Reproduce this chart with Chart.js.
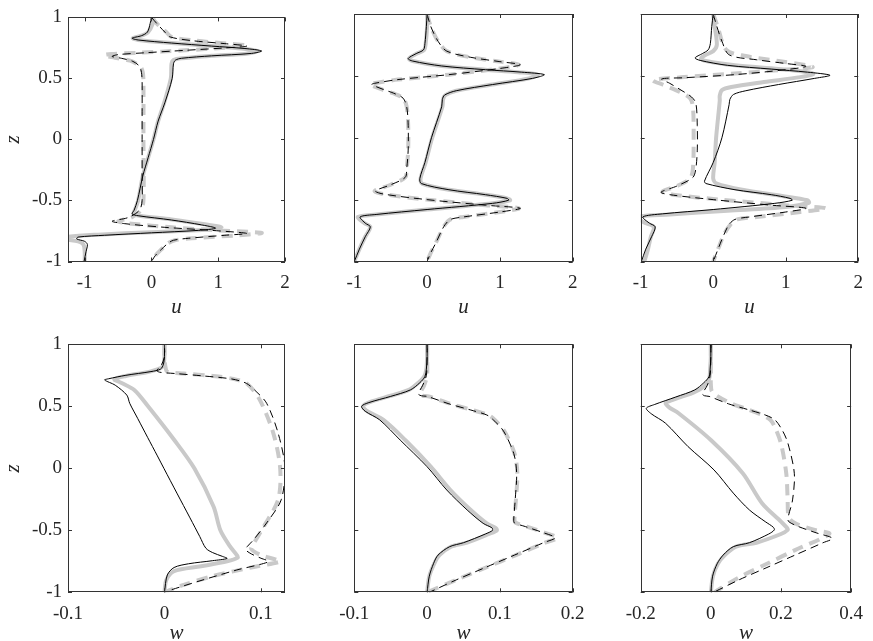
<!DOCTYPE html>
<html>
<head>
<meta charset="utf-8">
<script src="https://cdn.jsdelivr.net/npm/chart.js@4.4.1/dist/chart.umd.min.js"></script>
<style>
  html, body { margin: 0; padding: 0; background: #fff; overflow: hidden; }
  #wrap { position: relative; width: 873px; height: 641px; }
  canvas { position: absolute; left: 0; top: 0; }
</style>
</head>
<body>
<div id="wrap"></div>
<script>
// profiles: [value, z]
const u1GreySolid = [[0.03,1],[0.02,0.95],[-0.05,0.88],[-0.15,0.85],[-0.28,0.83],[-0.2,0.815],[0.3,0.79],[0.9,0.765],[1.35,0.745],[1.58,0.725],[1.45,0.705],[0.9,0.685],[0.45,0.665],[0.33,0.65],[0.3,0.62],[0.29,0.5],[0.19,0.3],[0.1,0.15],[0.03,0],[-0.05,-0.15],[-0.13,-0.3],[-0.2,-0.5],[-0.25,-0.58],[-0.27,-0.61],[-0.18,-0.625],[0.3,-0.655],[0.8,-0.695],[1.05,-0.72],[0.8,-0.74],[0,-0.76],[-0.8,-0.78],[-1.3,-0.8],[-1.3,-0.815],[-1.1,-0.835],[-1.02,-0.86],[-1.0,-0.92],[-1.0,-1]];
const u1BlackSolid = [[0,1],[-0.02,0.95],[-0.06,0.88],[-0.15,0.85],[-0.29,0.83],[-0.2,0.815],[0.3,0.79],[0.9,0.765],[1.4,0.745],[1.65,0.725],[1.5,0.705],[0.9,0.685],[0.45,0.665],[0.36,0.65],[0.33,0.62],[0.31,0.5],[0.2,0.3],[0.1,0.15],[0.03,0],[-0.05,-0.15],[-0.13,-0.3],[-0.21,-0.5],[-0.26,-0.58],[-0.29,-0.61],[-0.2,-0.625],[0.3,-0.66],[0.75,-0.7],[0.96,-0.727],[0.7,-0.745],[0,-0.765],[-0.7,-0.785],[-1.1,-0.8],[-1.12,-0.815],[-1.0,-0.835],[-0.96,-0.86],[-0.98,-0.92],[-1.01,-1]];
const u1GreyDash = [[0,1],[0.08,0.95],[0.22,0.88],[0.3,0.84],[0.65,0.81],[1.15,0.785],[1.43,0.77],[1.1,0.752],[0.5,0.73],[-0.2,0.71],[-0.6,0.7],[-0.71,0.69],[-0.55,0.67],[-0.32,0.645],[-0.17,0.6],[-0.13,0.55],[-0.12,0.47],[-0.12,0],[-0.12,-0.5],[-0.16,-0.58],[-0.3,-0.64],[-0.5,-0.67],[-0.3,-0.69],[0.3,-0.72],[1.0,-0.745],[1.65,-0.765],[1.3,-0.785],[0.6,-0.81],[0.35,-0.826],[0.25,-0.85],[0.15,-0.9],[0.06,-0.95],[0,-1]];
const u1BlackDash = [[0,1],[0.08,0.95],[0.2,0.88],[0.28,0.84],[0.6,0.81],[1.1,0.785],[1.43,0.765],[1.1,0.75],[0.5,0.73],[-0.1,0.71],[-0.5,0.695],[-0.59,0.68],[-0.45,0.665],[-0.28,0.64],[-0.18,0.6],[-0.15,0.55],[-0.14,0.47],[-0.14,0.2],[-0.14,0],[-0.14,-0.3],[-0.14,-0.5],[-0.18,-0.58],[-0.35,-0.64],[-0.59,-0.67],[-0.4,-0.69],[0.2,-0.72],[0.9,-0.745],[1.43,-0.77],[1.1,-0.785],[0.55,-0.81],[0.33,-0.826],[0.25,-0.85],[0.15,-0.9],[0.06,-0.95],[0,-1]];

const u2GreySolid = [[0,1],[0,0.9],[-0.02,0.76],[-0.04,0.71],[-0.14,0.68],[-0.25,0.64],[-0.2,0.62],[0.2,0.58],[0.8,0.55],[1.25,0.53],[1.52,0.51],[1.4,0.48],[0.9,0.43],[0.4,0.38],[0.25,0.345],[0.22,0.31],[0.21,0.25],[0.07,0],[-0.02,-0.2],[-0.09,-0.33],[-0.07,-0.37],[0.3,-0.42],[0.8,-0.46],[1.1,-0.49],[1.14,-0.505],[0.9,-0.53],[0,-0.58],[-0.7,-0.62],[-0.95,-0.64],[-0.86,-0.69],[-0.78,-0.72],[-0.85,-0.8],[-0.93,-0.9],[-1,-1]];
const u2BlackSolid = [[0,1],[-0.01,0.9],[-0.03,0.76],[-0.05,0.71],[-0.15,0.68],[-0.26,0.64],[-0.2,0.62],[0.2,0.58],[0.8,0.55],[1.3,0.53],[1.61,0.51],[1.45,0.48],[0.9,0.43],[0.4,0.38],[0.24,0.345],[0.21,0.31],[0.2,0.25],[0.06,0],[-0.03,-0.2],[-0.1,-0.33],[-0.08,-0.37],[0.3,-0.42],[0.8,-0.46],[1.1,-0.49],[1.12,-0.505],[0.9,-0.53],[0,-0.58],[-0.7,-0.62],[-0.92,-0.64],[-0.85,-0.69],[-0.78,-0.72],[-0.85,-0.8],[-0.93,-0.9],[-1,-1]];
const u2GreyDash = [[0,1],[0.05,0.9],[0.15,0.78],[0.27,0.7],[0.6,0.65],[1.0,0.615],[1.26,0.59],[1.0,0.56],[0.3,0.51],[-0.4,0.47],[-0.74,0.44],[-0.78,0.43],[-0.62,0.39],[-0.47,0.36],[-0.33,0.32],[-0.28,0.25],[-0.26,0.1],[-0.26,-0.1],[-0.28,-0.25],[-0.3,-0.32],[-0.5,-0.38],[-0.72,-0.43],[-0.6,-0.455],[0,-0.5],[0.8,-0.545],[1.26,-0.57],[1.0,-0.6],[0.5,-0.64],[0.32,-0.66],[0.25,-0.7],[0.2,-0.75],[0.12,-0.85],[0.05,-0.93],[0,-1]];
const u2BlackDash = [[0,1],[0.05,0.9],[0.15,0.78],[0.27,0.7],[0.6,0.65],[1.0,0.615],[1.28,0.59],[1.0,0.56],[0.3,0.51],[-0.4,0.47],[-0.72,0.44],[-0.76,0.43],[-0.6,0.39],[-0.46,0.36],[-0.33,0.32],[-0.28,0.25],[-0.26,0.1],[-0.26,-0.1],[-0.28,-0.25],[-0.3,-0.32],[-0.5,-0.38],[-0.71,-0.43],[-0.6,-0.455],[0,-0.5],[0.8,-0.545],[1.28,-0.57],[1.0,-0.6],[0.5,-0.64],[0.32,-0.66],[0.25,-0.7],[0.2,-0.75],[0.12,-0.85],[0.05,-0.93],[0,-1]];

const u3GreySolid = [[0,1],[0.02,0.9],[0.05,0.75],[0.0,0.7],[-0.12,0.665],[-0.17,0.64],[-0.1,0.62],[0.3,0.585],[0.9,0.555],[1.3,0.53],[1.38,0.515],[1.2,0.49],[0.7,0.45],[0.25,0.41],[0.12,0.385],[0.09,0.34],[0.09,0.3],[0.04,0],[0.02,-0.2],[0,-0.33],[0.05,-0.37],[0.4,-0.42],[0.95,-0.47],[1.3,-0.505],[1.32,-0.525],[1.0,-0.56],[0.2,-0.59],[-0.6,-0.62],[-1.05,-0.64],[-0.95,-0.685],[-0.82,-0.72],[-0.86,-0.8],[-0.9,-0.9],[-0.95,-1]];
const u3BlackSolid = [[0,1],[-0.02,0.9],[-0.04,0.76],[-0.07,0.71],[-0.15,0.68],[-0.25,0.645],[-0.18,0.625],[0.2,0.585],[0.8,0.555],[1.3,0.53],[1.61,0.505],[1.4,0.48],[0.9,0.43],[0.45,0.38],[0.28,0.35],[0.23,0.31],[0.22,0.27],[0.12,0],[0,-0.2],[-0.12,-0.35],[-0.1,-0.37],[0.3,-0.42],[0.8,-0.46],[1.06,-0.49],[1.09,-0.505],[0.85,-0.53],[0,-0.58],[-0.7,-0.615],[-0.97,-0.64],[-0.88,-0.69],[-0.8,-0.72],[-0.85,-0.8],[-0.93,-0.9],[-0.99,-1]];
const u3GreyDash = [[0,1],[0.06,0.9],[0.18,0.71],[0.45,0.66],[0.9,0.62],[1.3,0.585],[1.37,0.57],[1.0,0.55],[0.3,0.52],[-0.4,0.49],[-0.83,0.465],[-0.7,0.43],[-0.46,0.37],[-0.32,0.32],[-0.28,0.25],[-0.27,0],[-0.28,-0.25],[-0.32,-0.33],[-0.5,-0.39],[-0.7,-0.435],[-0.55,-0.46],[0.1,-0.5],[1.0,-0.545],[1.55,-0.57],[1.2,-0.6],[0.6,-0.64],[0.33,-0.66],[0.24,-0.7],[0.15,-0.78],[0.08,-0.88],[0,-1]];
const u3BlackDash = [[0,1],[0.05,0.9],[0.12,0.78],[0.22,0.67],[0.6,0.63],[1.0,0.6],[1.28,0.577],[1.0,0.55],[0.3,0.51],[-0.4,0.485],[-0.71,0.475],[-0.6,0.44],[-0.43,0.38],[-0.3,0.33],[-0.24,0.28],[-0.22,0.1],[-0.22,-0.1],[-0.24,-0.25],[-0.28,-0.32],[-0.5,-0.39],[-0.72,-0.44],[-0.6,-0.46],[0,-0.5],[0.8,-0.545],[1.28,-0.57],[1.0,-0.6],[0.5,-0.64],[0.3,-0.66],[0.22,-0.7],[0.15,-0.78],[0.08,-0.88],[0,-1]];

const w1GreySolid = [[0,1],[0,0.9],[-0.002,0.82],[-0.015,0.78],[-0.04,0.745],[-0.052,0.718],[-0.045,0.69],[-0.031,0.63],[-0.017,0.5],[0.01,0.23],[0.031,0],[0.051,-0.31],[0.058,-0.5],[0.068,-0.63],[0.075,-0.7],[0.076,-0.72],[0.065,-0.75],[0.038,-0.79],[0.01,-0.83],[0.002,-0.9],[0,-1]];
const w1BlackSolid = [[0,1],[0,0.9],[-0.001,0.84],[-0.004,0.8],[-0.014,0.78],[-0.04,0.75],[-0.058,0.722],[-0.062,0.712],[-0.051,0.67],[-0.039,0.59],[-0.036,0.524],[-0.0276,0.4],[-0.0175,0.25],[-0.0073,0.1],[-0.0006,0],[0.0129,-0.2],[0.0265,-0.4],[0.0366,-0.55],[0.043,-0.645],[0.05,-0.68],[0.06,-0.71],[0.065,-0.727],[0.05,-0.745],[0.025,-0.77],[0.01,-0.8],[0.003,-0.86],[0,-1]];
const w1GreyDash = [[0,1],[0,0.9],[0.001,0.82],[0.003,0.78],[0.02,0.765],[0.05,0.745],[0.072,0.72],[0.086,0.68],[0.099,0.55],[0.113,0.28],[0.12,0],[0.118,-0.25],[0.103,-0.47],[0.093,-0.6],[0.09,-0.65],[0.1,-0.7],[0.115,-0.735],[0.12,-0.753],[0.09,-0.8],[0.05,-0.87],[0.02,-0.94],[0.003,-0.99],[0,-1]];
const w1BlackDash = [[0,1],[0,0.9],[-0.004,0.82],[-0.008,0.79],[-0.005,0.775],[0.01,0.765],[0.04,0.745],[0.07,0.72],[0.085,0.685],[0.095,0.62],[0.106,0.524],[0.118,0.28],[0.125,0],[0.121,-0.255],[0.106,-0.44],[0.092,-0.58],[0.086,-0.63],[0.084,-0.655],[0.09,-0.69],[0.1,-0.725],[0.108,-0.753],[0.075,-0.82],[0.04,-0.9],[0.007,-0.98],[0,-1]];

const w2GreySolid = [[0,1],[0,0.9],[-0.001,0.8],[-0.004,0.74],[-0.012,0.69],[-0.025,0.632],[-0.05,0.585],[-0.078,0.535],[-0.088,0.5],[-0.082,0.46],[-0.06,0.39],[-0.03,0.228],[0.005,0.013],[0.032,-0.175],[0.06,-0.336],[0.082,-0.444],[0.094,-0.48],[0.096,-0.5],[0.085,-0.53],[0.055,-0.6],[0.033,-0.632],[0.017,-0.7],[0.01,-0.766],[0.003,-0.87],[0,-1]];
const w2BlackSolid = [[0,1],[0,0.9],[-0.001,0.8],[-0.003,0.74],[-0.01,0.69],[-0.023,0.632],[-0.05,0.58],[-0.08,0.53],[-0.09,0.5],[-0.085,0.46],[-0.065,0.39],[-0.037,0.228],[0,0.013],[0.027,-0.175],[0.055,-0.336],[0.077,-0.444],[0.089,-0.48],[0.09,-0.5],[0.08,-0.53],[0.05,-0.6],[0.031,-0.632],[0.015,-0.7],[0.009,-0.766],[0.003,-0.87],[0,-1]];
const w2GreyDash = [[0,1],[0,0.9],[0,0.75],[-0.004,0.67],[-0.01,0.6],[-0.006,0.585],[0.002,0.58],[0.032,0.52],[0.062,0.47],[0.084,0.43],[0.093,0.39],[0.106,0.3],[0.12,0.12],[0.124,-0.04],[0.122,-0.255],[0.12,-0.417],[0.122,-0.44],[0.137,-0.47],[0.162,-0.52],[0.179,-0.56],[0.162,-0.6],[0.122,-0.7],[0.081,-0.8],[0.04,-0.9],[0,-1]];
const w2BlackDash = [[0,1],[0,0.9],[-0.001,0.75],[-0.006,0.67],[-0.012,0.6],[-0.008,0.585],[0,0.58],[0.03,0.52],[0.06,0.47],[0.082,0.43],[0.091,0.39],[0.105,0.3],[0.119,0.12],[0.123,-0.04],[0.121,-0.255],[0.119,-0.417],[0.12,-0.44],[0.135,-0.47],[0.16,-0.52],[0.176,-0.56],[0.16,-0.6],[0.12,-0.7],[0.08,-0.8],[0.04,-0.9],[0.003,-1]];

const w3GreySolid = [[0,1],[0,0.9],[-0.002,0.8],[-0.005,0.72],[-0.02,0.66],[-0.05,0.61],[-0.083,0.578],[-0.12,0.54],[-0.129,0.524],[-0.118,0.49],[-0.092,0.444],[0,0.228],[0.091,-0.04],[0.146,-0.282],[0.2,-0.43],[0.217,-0.48],[0.219,-0.497],[0.2,-0.53],[0.13,-0.6],[0.072,-0.632],[0.04,-0.7],[0.02,-0.77],[0.006,-0.87],[0,-1]];
const w3BlackSolid = [[0,1],[0,0.9],[-0.002,0.8],[-0.005,0.74],[-0.02,0.69],[-0.046,0.632],[-0.1,0.575],[-0.16,0.515],[-0.184,0.484],[-0.17,0.44],[-0.129,0.363],[-0.065,0.175],[0.009,-0.013],[0.064,-0.2],[0.11,-0.336],[0.155,-0.43],[0.178,-0.475],[0.181,-0.497],[0.165,-0.53],[0.11,-0.6],[0.064,-0.632],[0.035,-0.7],[0.018,-0.77],[0.005,-0.87],[0,-1]];
const w3GreyDash = [[0,1],[0,0.9],[0,0.75],[0,0.68],[0.003,0.62],[0.02,0.58],[0.06,0.52],[0.1,0.48],[0.146,0.43],[0.17,0.39],[0.183,0.33],[0.2,0.2],[0.215,-0.04],[0.219,-0.255],[0.22,-0.36],[0.225,-0.41],[0.245,-0.45],[0.3,-0.5],[0.338,-0.524],[0.32,-0.56],[0.24,-0.66],[0.16,-0.77],[0.08,-0.88],[0.01,-1]];
const w3BlackDash = [[0,1],[0,0.9],[-0.002,0.75],[-0.01,0.67],[-0.024,0.6],[-0.018,0.585],[-0.005,0.58],[0.05,0.52],[0.11,0.47],[0.155,0.43],[0.183,0.39],[0.205,0.3],[0.22,0.2],[0.238,-0.04],[0.233,-0.255],[0.22,-0.4],[0.222,-0.43],[0.25,-0.47],[0.3,-0.52],[0.347,-0.565],[0.32,-0.6],[0.24,-0.7],[0.16,-0.8],[0.08,-0.9],[0.008,-1]];

// axes
const zTicks = [-1, -0.5, 0, 0.5, 1];
const uTicks = [-1, 0, 1, 2];
const w1Ticks = [-0.1, 0, 0.1];
const w2Ticks = [-0.1, 0, 0.1, 0.2];
const w3Ticks = [-0.2, 0, 0.2, 0.4];
const u1Range = [-1.25, 2];
const u2Range = [-1, 2];
const w1Range = [-0.1, 0.125];
const w2Range = [-0.1, 0.2];
const w3Range = [-0.2, 0.4];

const W = 873, H = 680;
const GREY = '#c9c9c9';
const INK = '#262626';
const tickFont = { family: 'Liberation Serif', size: 19 };
const titleFont = { family: 'Liberation Serif', size: 21, style: 'italic', lineHeight: 1 };

const panels = [
  { curves: [u1GreySolid, u1BlackSolid, u1GreyDash, u1BlackDash], range: u1Range, ticks: uTicks, label: 'u', box: [68, 14, 285, 261.5], xH: 56, yLabels: true },
  { curves: [u2GreySolid, u2BlackSolid, u2GreyDash, u2BlackDash], range: u2Range, ticks: uTicks, label: 'u', box: [354.3, 14, 572.7, 261.5], xH: 56, yLabels: false },
  { curves: [u3GreySolid, u3BlackSolid, u3GreyDash, u3BlackDash], range: u2Range, ticks: uTicks, label: 'u', box: [640.7, 14, 859.3, 261.5], xH: 56, yLabels: false },
  { curves: [w1GreySolid, w1BlackSolid, w1GreyDash, w1BlackDash], range: w1Range, ticks: w1Ticks, label: 'w', box: [68, 344.3, 285, 592.3], xH: 51.5, yLabels: true },
  { curves: [w2GreySolid, w2BlackSolid, w2GreyDash, w2BlackDash], range: w2Range, ticks: w2Ticks, label: 'w', box: [354.3, 344.3, 572.7, 592.3], xH: 51.5, yLabels: false },
  { curves: [w3GreySolid, w3BlackSolid, w3GreyDash, w3BlackDash], range: w3Range, ticks: w3Ticks, label: 'w', box: [640.7, 344.3, 859.3, 592.3], xH: 51.5, yLabels: false },
];

// box and inward ticks on all four sides, like the original axes
const frame = {
  id: 'frame',
  afterDraw(chart) {
    const { ctx, chartArea: a, scales: { x, y } } = chart;
    const len = 4;
    ctx.save();
    ctx.strokeStyle = '#333';
    ctx.lineWidth = 1;
    ctx.strokeRect(Math.round(a.left) + 0.5, Math.round(a.top) + 0.5,
      Math.round(a.right) - Math.round(a.left) - 1, Math.round(a.bottom) - Math.round(a.top) - 1);
    ctx.beginPath();
    x.ticks.forEach(t => {
      const px = Math.round(x.getPixelForValue(t.value)) + 0.5;
      ctx.moveTo(px, a.bottom); ctx.lineTo(px, a.bottom - len);
      ctx.moveTo(px, a.top); ctx.lineTo(px, a.top + len);
    });
    y.ticks.forEach(t => {
      const py = Math.round(y.getPixelForValue(t.value)) + 0.5;
      ctx.moveTo(a.left, py); ctx.lineTo(a.left + len, py);
      ctx.moveTo(a.right, py); ctx.lineTo(a.right - len, py);
    });
    ctx.stroke();
    ctx.restore();
  }
};

function line(points, color, width, dash, order) {
  return {
    data: points.map(p => ({ x: p[0], y: p[1] })),
    showLine: true,
    borderColor: color,
    borderWidth: width,
    borderDash: dash,
    pointRadius: 0,
    tension: 0.3,
    clip: 0,
    order
  };
}

const wrap = document.getElementById('wrap');
panels.forEach(p => {
  const cv = document.createElement('canvas');
  cv.width = W; cv.height = H;
  cv.style.width = W + 'px'; cv.style.height = H + 'px';
  wrap.appendChild(cv);
  const [L, T, R, B] = p.box;
  const yW = p.yLabels ? 65 : 0;
  new Chart(cv, {
    type: 'scatter',
    data: {
      datasets: [
        line(p.curves[0], GREY, 4, [], 2),
        line(p.curves[2], GREY, 4, [11, 7], 3),
        line(p.curves[1], '#000', 1, [], 0),
        line(p.curves[3], '#000', 1, [8, 5], 1)
      ]
    },
    options: {
      responsive: false,
      animation: false,
      events: [],
      layout: { padding: { left: L - yW, top: T, right: W - R, bottom: H - B - p.xH } },
      plugins: { legend: { display: false }, tooltip: { enabled: false } },
      scales: {
        x: {
          type: 'linear',
          min: p.range[0], max: p.range[1],
          afterBuildTicks: s => { s.ticks = p.ticks.map(v => ({ value: v })); },
          afterFit: s => { s.height = p.xH; },
          grid: { display: false, drawTicks: false },
          border: { display: false },
          ticks: { font: tickFont, color: INK, padding: 10, maxRotation: 0, autoSkip: false, callback: v => String(v) },
          title: { display: true, text: p.label, font: titleFont, color: INK, padding: 0 }
        },
        y: {
          type: 'linear',
          min: -1, max: 1,
          afterBuildTicks: s => { s.ticks = zTicks.map(v => ({ value: v })); },
          afterFit: s => { s.width = yW; },
          grid: { display: false, drawTicks: false },
          border: { display: false },
          ticks: { display: p.yLabels, font: tickFont, color: INK, padding: 6, autoSkip: false, callback: v => String(v) },
          title: { display: p.yLabels, text: 'z', font: titleFont, color: INK, padding: 0 }
        }
      }
    },
    plugins: [frame]
  });
});
</script>
</body>
</html>
